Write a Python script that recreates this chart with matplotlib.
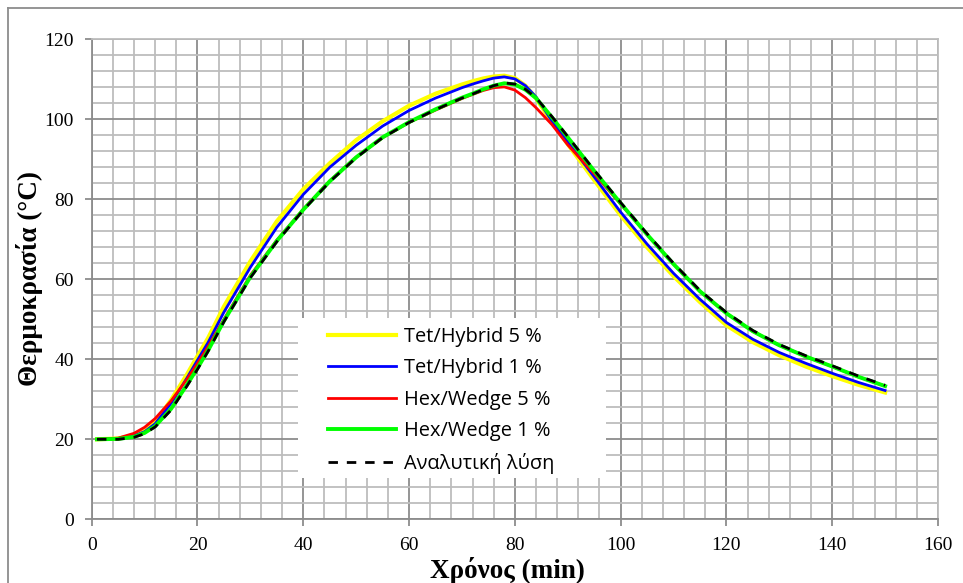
import matplotlib
matplotlib.use("Agg")
import matplotlib.pyplot as plt
from matplotlib.lines import Line2D
from matplotlib.patches import Rectangle
from matplotlib.ticker import MultipleLocator

# ---- data ----
t = [1, 5, 8, 10, 12, 15, 18, 20, 22, 25, 30, 35, 40, 45, 50, 55, 60, 65, 70, 72, 74, 76, 78,
     80, 82, 84, 87, 90, 95, 100, 105, 110, 115, 120, 125, 130, 135, 140, 145, 150]

tet_hybrid_5 = [20, 20.2, 21.0, 22.3, 24.3, 29.8, 36.2, 40.8, 45.3, 53.2, 64.5, 74.5, 82.5,
                89.0, 94.8, 99.5, 103.4, 106.4, 108.7, 109.5, 110.2, 110.7, 110.9,
                110.3, 108.4, 105.3, 99.3, 93.8, 84.8, 76.0, 68.0, 60.8, 54.3, 48.5, 44.3,
                41.0, 38.2, 35.8, 33.6, 31.7]

tet_hybrid_1 = [20, 20.2, 20.9, 21.9, 23.9, 29.0, 35.3, 39.8, 44.2, 51.8, 63.0, 73.0, 81.2,
                88.0, 93.5, 98.3, 102.2, 105.3, 107.9, 108.8, 109.6, 110.3, 110.6,
                110.1, 108.4, 105.6, 99.6, 94.3, 85.6, 76.8, 68.8, 61.5, 55.0, 49.2, 45.0,
                41.7, 39.0, 36.5, 34.2, 32.2]

hex_wedge_5 = [20, 20.3, 21.5, 23.0, 25.2, 29.6, 35.0, 39.0, 43.2, 50.0, 61.0, 69.8, 77.5,
               84.6, 90.5, 95.4, 99.2, 102.3, 105.2, 106.2, 107.2, 107.9, 108.1,
               107.3, 105.4, 102.9, 98.7, 93.6, 86.4, 78.8, 71.2, 63.8, 57.0, 51.5, 47.0,
               43.5, 40.7, 38.2, 35.6, 33.3]

hex_wedge_1 = [20, 20.1, 20.6, 21.6, 23.3, 27.6, 33.6, 37.8, 42.2, 49.6, 60.6, 69.6, 77.4,
               84.5, 90.5, 95.5, 99.3, 102.5, 105.4, 106.4, 107.5, 108.4, 109.0,
               108.7, 107.4, 105.3, 100.5, 95.5, 87.1, 79.0, 71.2, 63.8, 57.0, 51.5, 47.0,
               43.5, 40.7, 38.2, 35.6, 33.3]

analytic = [20, 20.0, 20.5, 21.4, 23.1, 27.3, 33.3, 37.5, 42.0, 49.4, 60.4, 69.4, 77.3,
            84.4, 90.4, 95.4, 99.2, 102.4, 105.3, 106.3, 107.4, 108.4, 109.1,
            108.8, 107.5, 105.4, 100.7, 95.7, 87.3, 79.2, 71.4, 64.0, 57.2, 51.7, 47.2,
            43.7, 40.9, 38.4, 35.8, 33.5]

labels = ["Tet/Hybrid 5 %", "Tet/Hybrid 1 %", "Hex/Wedge 5 %", "Hex/Wedge 1 %", "Αναλυτική λύση"]
x_ticks = [0, 20, 40, 60, 80, 100, 120, 140, 160]
y_ticks = [0, 20, 40, 60, 80, 100, 120]

# ---- figure ----
W, H = 963, 583
L, R, T, B = 91.7, 938.0, 39.3, 519.3
fig = plt.figure(figsize=(W / 100, H / 100), dpi=100)
ax = fig.add_axes([L / W, 1 - B / H, (R - L) / W, (B - T) / H])


def ax_x(px):
    return (px - L) / (R - L)


def ax_y(py):
    return (B - py) / (B - T)


serif = "Liberation Serif"

ax.plot(t, tet_hybrid_5, color="#FFFF00", lw=3.0, label=labels[0], zorder=3)
ax.plot(t, tet_hybrid_1, color="#0000FF", lw=2.0, label=labels[1], zorder=4)
ax.plot(t, hex_wedge_5, color="#FF0000", lw=2.0, label=labels[2], zorder=5)
ax.plot(t, hex_wedge_1, color="#00FF00", lw=2.8, label=labels[3], zorder=6)
ax.plot(t, analytic, color="black", lw=2.0, ls=(0, (3.4, 3.2)), label=labels[4], zorder=7)

ax.set_xlim(0, 160)
ax.set_ylim(0, 120)
ax.set_xticks(x_ticks)
ax.set_yticks(y_ticks)
ax.xaxis.set_minor_locator(MultipleLocator(4))
ax.yaxis.set_minor_locator(MultipleLocator(4))

ax.grid(which="major", color="#8c8c8c", lw=1.3, zorder=0)
ax.grid(which="minor", color="#bdbdbd", lw=1.3, zorder=0)
ax.set_axisbelow(True)

for s in ["left", "bottom"]:
    ax.spines[s].set_color("#8c8c8c")
    ax.spines[s].set_linewidth(1.3)
for s in ["top", "right"]:
    ax.spines[s].set_color("#bdbdbd")
    ax.spines[s].set_linewidth(1.3)

ax.tick_params(which="major", direction="out", length=5, width=1.3, color="#8c8c8c",
               labelsize=14)
ax.tick_params(which="minor", length=0)
ax.tick_params(axis="x", pad=8)
ax.tick_params(axis="y", pad=8)
for lab in ax.get_xticklabels() + ax.get_yticklabels():
    lab.set_fontfamily(serif)

ax.set_xlabel("Χρόνος (min)", fontfamily=serif, fontweight="bold", fontsize=19.5)
ax.set_ylabel("Θερμοκρασία (°C)", fontfamily=serif, fontweight="bold", fontsize=19.5)
ax.xaxis.label.set_va("center")
ax.yaxis.label.set_va("center")
ax.xaxis.set_label_coords(ax_x(507), ax_y(570))
ax.yaxis.set_label_coords(ax_x(30), ax_y(279))

# legend: white box without border, entries as in the reference
box = Rectangle((ax_x(298), ax_y(478)), ax_x(606) - ax_x(298), ax_y(318) - ax_y(478),
                transform=ax.transAxes, facecolor="white", edgecolor="none", zorder=9)
ax.add_patch(box)
leg = ax.legend(loc="upper left", bbox_to_anchor=(ax_x(328), ax_y(327)),
                frameon=False, prop={"family": "Open Sans", "size": 14.4},
                handlelength=3.42, handletextpad=0.4, labelspacing=0.57,
                borderpad=0, borderaxespad=0)
leg.set_zorder(10)

# outer chart-area border (top and left visible in the reference)
fig.add_artist(Line2D([8 / W, 8 / W], [0, 1 - 8 / H], color="#8c8c8c", lw=1.3,
                      transform=fig.transFigure))
fig.add_artist(Line2D([8 / W, 1], [1 - 8 / H, 1 - 8 / H], color="#8c8c8c", lw=1.3,
                      transform=fig.transFigure))

fig.savefig("out.png", dpi=100)
